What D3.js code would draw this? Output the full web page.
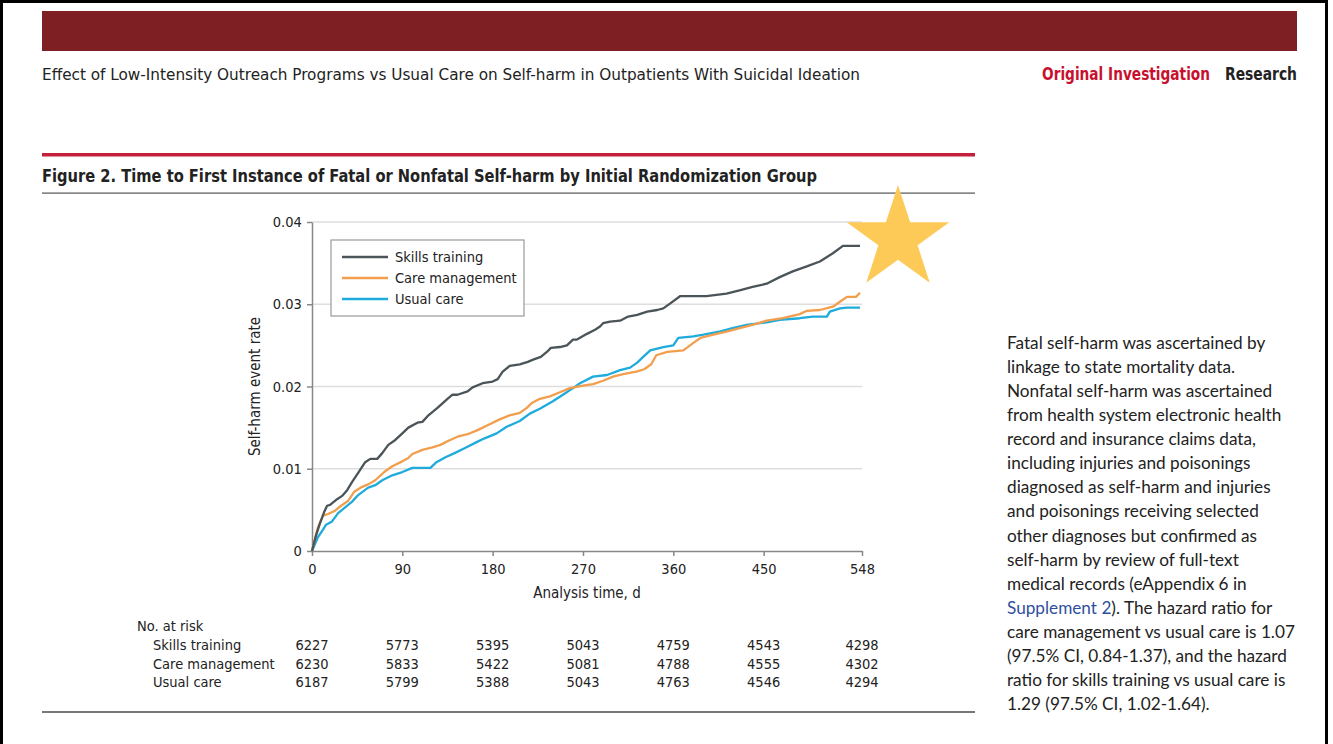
<!DOCTYPE html>
<html>
<head>
<meta charset="utf-8">
<script src="https://cdn.jsdelivr.net/npm/d3@7"></script>
<style>
  body { margin: 0; background: #fff; }
  svg { display: block; }
  .narrow { font-family: "Liberation Sans Narrow", "DejaVu Sans Condensed", sans-serif; }
</style>
</head>
<body>
<div id="chart"></div>
<script>
// time (days) ticks and number at risk
const timeTicks = [0, 90, 180, 270, 360, 450, 548];
const rateTicks = [0, 0.01, 0.02, 0.03, 0.04];
const groups = ["Skills training", "Care management", "Usual care"];
const atRiskSkills = [6227, 5773, 5395, 5043, 4759, 4543, 4298];
const atRiskCare = [6230, 5833, 5422, 5081, 4788, 4555, 4302];
const atRiskUsual = [6187, 5799, 5388, 5043, 4763, 4546, 4294];

// [day, cumulative event rate]
const skillsTraining = [
  [0, 0], [4, .0019], [8, .0034], [12, .0047], [15, .0055], [18, .0056], [25, .0063], [30, .0067],
  [35, .0074], [40, .0084], [46, .0095], [53, .0108], [58, .0112], [65, .0112], [70, .0119],
  [76, .0129], [83, .0135], [90, .0143], [96, .0150], [105, .0156], [110, .0157], [116, .0165],
  [125, .0174], [135, .0185], [140, .0190], [145, .0190], [155, .0194], [160, .0199], [170, .0204],
  [180, .0206], [185, .0209], [190, .0218], [197, .0225], [207, .0227], [215, .0230], [221, .0233],
  [228, .0236], [234, .0242], [238, .0247], [247, .0248], [254, .0250], [260, .0257], [264, .0257],
  [274, .0264], [282, .0269], [287, .0273], [290, .0277], [297, .0279], [307, .0280], [315, .0285],
  [324, .0287], [334, .0291], [344, .0293], [350, .0295], [357, .0301], [367, .0310], [393, .0310],
  [413, .0313], [426, .0317], [439, .0321], [453, .0325], [466, .0333], [479, .0340], [493, .0346],
  [506, .0352], [519, .0362], [529, .0371], [546, .0371]
];
const careManagement = [
  [0, 0], [6, .0029], [11, .0043], [16, .0045], [23, .0049], [29, .0055], [36, .0061], [42, .0072],
  [50, .0078], [56, .0081], [63, .0086], [73, .0097], [80, .0103], [90, .0109], [96, .0113],
  [100, .0118], [110, .0123], [120, .0126], [128, .0129], [136, .0134], [145, .0139], [155, .0142],
  [165, .0147], [177, .0154], [187, .0160], [197, .0165], [207, .0168], [214, .0174], [219, .0180],
  [227, .0185], [237, .0188], [247, .0193], [257, .0198], [270, .0201], [280, .0203], [290, .0207],
  [300, .0212], [310, .0215], [323, .0218], [331, .0221], [338, .0227], [343, .0238], [354, .0242],
  [370, .0244], [380, .0253], [387, .0259], [400, .0263], [414, .0267], [426, .0271], [439, .0275],
  [453, .0280], [469, .0283], [486, .0288], [493, .0292], [506, .0293], [519, .0297], [526, .0303],
  [533, .0309], [542, .0309], [546, .0314]
];
const usualCare = [
  [0, 0], [6, .0017], [11, .0026], [14, .0032], [20, .0036], [26, .0046], [33, .0053], [40, .0060],
  [46, .0068], [56, .0077], [63, .0080], [70, .0086], [80, .0092], [90, .0096], [100, .0101],
  [118, .0101], [124, .0108], [133, .0114], [142, .0119], [152, .0125], [165, .0133], [172, .0137],
  [184, .0143], [194, .0151], [207, .0158], [217, .0167], [227, .0173], [240, .0182], [250, .0190],
  [260, .0198], [267, .0204], [280, .0212], [294, .0214], [307, .0220], [317, .0223], [324, .0229],
  [330, .0236], [337, .0244], [350, .0248], [360, .0250], [365, .0259], [380, .0261], [390, .0263],
  [407, .0267], [419, .0271], [433, .0275], [453, .0278], [466, .0281], [486, .0283], [499, .0285],
  [513, .0285], [516, .0291], [526, .0295], [533, .0296], [546, .0296]
];

const series = [
  { name: groups[0], values: skillsTraining, risk: atRiskSkills, color: "#4b5458" },
  { name: groups[1], values: careManagement, risk: atRiskCare, color: "#f29e4c" },
  { name: groups[2], values: usualCare, risk: atRiskUsual, color: "#1fabdc" }
];

const sideText = [
  "Fatal self-harm was ascertained by",
  "linkage to state mortality data.",
  "Nonfatal self-harm was ascertained",
  "from health system electronic health",
  "record and insurance claims data,",
  "including injuries and poisonings",
  "diagnosed as self-harm and injuries",
  "and poisonings receiving selected",
  "other diagnoses but confirmed as",
  "self-harm by review of full-text",
  "medical records (eAppendix 6 in",
  "|Supplement 2|). The hazard ratio for",
  "care management vs usual care is 1.07",
  "(97.5% CI, 0.84-1.37), and the hazard",
  "ratio for skills training vs usual care is",
  "1.29 (97.5% CI, 1.02-1.64)."
];

const W = 1333, H = 744;
const svg = d3.select("#chart").append("svg").attr("width", W).attr("height", H);

// page frame
svg.append("rect").attr("x", 1.5).attr("y", 1.5).attr("width", 1325).attr("height", 800)
  .attr("fill", "none").attr("stroke", "#000").attr("stroke-width", 3);

// banner + running head
svg.append("rect").attr("x", 42).attr("y", 11).attr("width", 1255).attr("height", 40).attr("fill", "#7e1f23");
svg.append("text").attr("class", "narrow").attr("x", 42).attr("y", 80)
  .attr("font-size", 16.5).attr("fill", "#222")
  .attr("textLength", 818).attr("lengthAdjust", "spacingAndGlyphs")
  .text("Effect of Low-Intensity Outreach Programs vs Usual Care on Self-harm in Outpatients With Suicidal Ideation");
svg.append("text").attr("class", "narrow").attr("x", 1042).attr("y", 80)
  .attr("font-size", 17).attr("font-weight", 600).attr("fill", "#c8102e")
  .attr("textLength", 168).attr("lengthAdjust", "spacingAndGlyphs")
  .text("Original Investigation");
svg.append("text").attr("class", "narrow").attr("x", 1225).attr("y", 80)
  .attr("font-size", 17).attr("font-weight", 600).attr("fill", "#222")
  .attr("textLength", 72).attr("lengthAdjust", "spacingAndGlyphs")
  .text("Research");

// figure title block
svg.append("rect").attr("x", 42).attr("y", 153).attr("width", 933).attr("height", 3.5).attr("fill", "#c41f3b");
svg.append("text").attr("class", "narrow").attr("x", 42).attr("y", 182)
  .attr("font-size", 18).attr("font-weight", "bold").attr("fill", "#222")
  .attr("textLength", 775).attr("lengthAdjust", "spacingAndGlyphs")
  .text("Figure 2. Time to First Instance of Fatal or Nonfatal Self-harm by Initial Randomization Group");
svg.append("rect").attr("x", 42).attr("y", 192.5).attr("width", 933).attr("height", 1.2).attr("fill", "#555");
svg.append("rect").attr("x", 42).attr("y", 711).attr("width", 933).attr("height", 2).attr("fill", "#777");

// plot
const x = d3.scaleLinear().domain([0, 548]).range([312, 862]);
const y = d3.scaleLinear().domain([0, 0.04]).range([551, 222]);

svg.append("g").selectAll("line")
  .data(rateTicks.filter(d => d > 0))
  .join("line")
  .attr("x1", x(0)).attr("x2", x(548))
  .attr("y1", d => y(d)).attr("y2", d => y(d))
  .attr("stroke", "#dedede").attr("stroke-width", 1.5);

const xAxis = svg.append("g").attr("class", "narrow").attr("transform", `translate(0,${y(0)})`)
  .call(d3.axisBottom(x).tickValues(timeTicks).tickFormat(d3.format("d")).tickSize(5).tickSizeOuter(0));
const yAxis = svg.append("g").attr("class", "narrow").attr("transform", `translate(${x(0)},0)`)
  .call(d3.axisLeft(y).tickValues(rateTicks).tickFormat(d => d === 0 ? "0" : d3.format(".2f")(d)).tickSize(5).tickSizeOuter(0));
[xAxis, yAxis].forEach(g => {
  g.attr("font-family", null).attr("font-size", 14.5);
  g.select(".domain").attr("stroke", "#888").attr("stroke-width", 1.5);
  g.selectAll(".tick line").attr("stroke", "#888").attr("stroke-width", 1.5);
  g.selectAll(".tick text").attr("fill", "#222");
});
xAxis.selectAll(".tick text").attr("dy", "1.05em");
yAxis.selectAll(".tick text").attr("dx", "-0.15em");

svg.append("text").attr("class", "narrow")
  .attr("transform", `translate(260,${(y(0) + y(0.04)) / 2}) rotate(-90)`)
  .attr("text-anchor", "middle").attr("font-size", 15).attr("fill", "#222")
  .text("Self-harm event rate");
svg.append("text").attr("class", "narrow")
  .attr("x", (x(0) + x(548)) / 2).attr("y", 598)
  .attr("text-anchor", "middle").attr("font-size", 15).attr("fill", "#222")
  .text("Analysis time, d");

const line = d3.line().x(d => x(d[0])).y(d => y(d[1]));
svg.append("g").selectAll("path")
  .data(series.slice().reverse())
  .join("path")
  .attr("d", d => line(d.values))
  .attr("fill", "none")
  .attr("stroke", d => d.color)
  .attr("stroke-width", 2.3)
  .attr("stroke-linejoin", "round");

// legend
const lg = svg.append("g").attr("class", "narrow");
lg.append("rect").attr("x", 331).attr("y", 240).attr("width", 193).attr("height", 76)
  .attr("fill", "#fff").attr("stroke", "#999").attr("stroke-width", 1.2);
series.forEach((s, i) => {
  const ly = 257 + i * 21;
  lg.append("line").attr("x1", 342).attr("x2", 388).attr("y1", ly).attr("y2", ly)
    .attr("stroke", s.color).attr("stroke-width", 2.3);
  lg.append("text").attr("x", 395).attr("y", ly + 5).attr("font-size", 14.5).attr("fill", "#222").text(s.name);
});

// number at risk table
const rt = svg.append("g").attr("class", "narrow").attr("font-size", 14.5).attr("fill", "#222");
rt.append("text").attr("x", 137).attr("y", 631).text("No. at risk");
series.forEach((s, i) => {
  const ry = 650 + i * 18.5;
  rt.append("text").attr("x", 153).attr("y", ry).text(s.name);
  rt.selectAll(null).data(s.risk).join("text")
    .attr("x", (d, j) => x(timeTicks[j])).attr("y", ry)
    .attr("text-anchor", "middle").text(d => d);
});

// star
const starPts = d3.range(10).map(i => {
  const r = i % 2 === 0 ? 54 : 54 * 0.382;
  const a = -Math.PI / 2 + i * Math.PI / 5;
  return [898 + r * Math.cos(a), 239 + r * Math.sin(a)];
});
svg.append("polygon").attr("points", starPts.map(p => p.join(",")).join(" ")).attr("fill", "#fdca58");

// caption on the right
const st = svg.append("g").attr("font-family", "Lato, 'Open Sans', sans-serif").attr("font-size", 17.2).attr("fill", "#222");
sideText.forEach((ln, i) => {
  const t = st.append("text").attr("x", 1007).attr("y", 349 + i * 24.07);
  ln.split("|").forEach((part, k) => {
    if (part) t.append("tspan").attr("fill", k === 1 ? "#2f4f9e" : null).text(part);
  });
});
</script>
</body>
</html>
